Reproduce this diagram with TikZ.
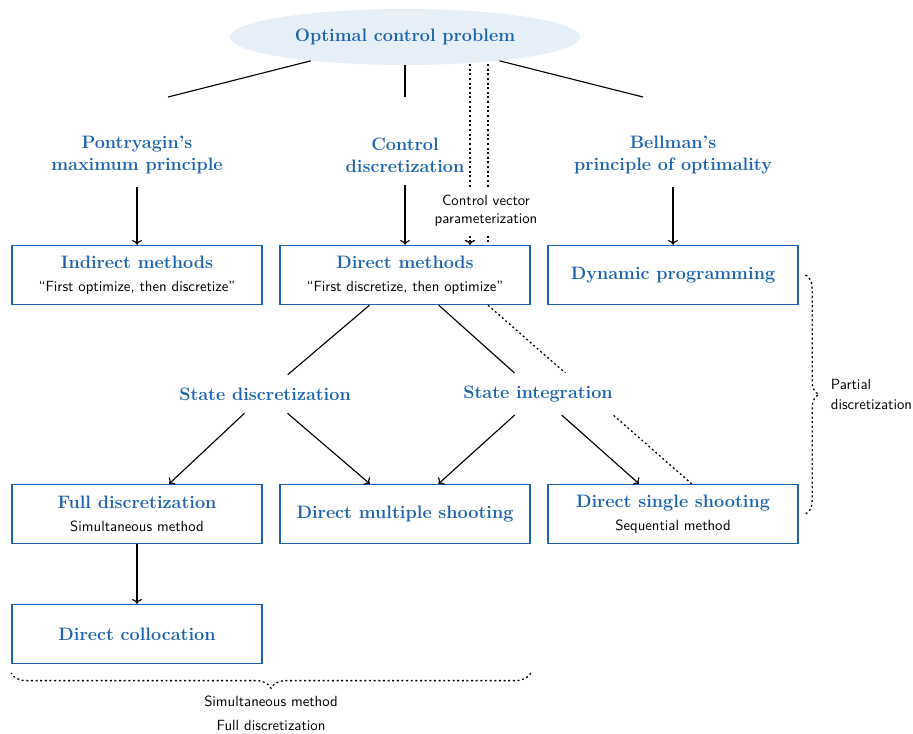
\documentclass[tikz,border=0pt]{standalone}
\usepackage{xcolor}
\usepackage{tikz}
\usetikzlibrary{shapes.geometric, arrows.meta, positioning, backgrounds, decorations.pathreplacing}

\definecolor{ocblue}{RGB}{27,99,176}
\definecolor{ocfill}{RGB}{230,238,248}
\newcommand{\octitle}{\fontsize{12.8}{15.4}\selectfont\bfseries}
\newcommand{\ocnote}{\fontsize{10.5}{12.6}\selectfont\mdseries\sffamily\color{black}}

\begin{document}
\begin{tikzpicture}[
    x=0.025cm, y=-0.025cm,
    methodbox/.style={rectangle, draw=ocblue, line width=1pt, fill=white, minimum width=6.25cm, minimum height=1.475cm, align=center, font=\octitle, text=ocblue},
    branch/.style={align=center, font=\octitle, text=ocblue, inner sep=9pt},
    arr/.style={->, line width=0.8pt},
    link/.style={line width=0.8pt},
    dotline/.style={dash pattern=on 1.4pt off 1.9pt, line width=0.9pt},
    lbl/.style={font=\ocnote, align=center}
]
\useasboundingbox (0,0) rectangle (913,733);

% Problem and the three approaches
\node[ellipse, fill=ocfill, minimum width=8.75cm, minimum height=1.4cm, font=\octitle, text=ocblue] (ocp) at (405,37) {Optimal control problem};
\node[branch] (pmp) at (137,155) {Pontryagin's\\maximum principle};
\node[branch] (cdisc) at (405,155) {Control\\discretization};
\node[branch] (bellman) at (673,155) {Bellman's\\principle of optimality};

\coordinate (pmpend) at (168,97);
\coordinate (cdend) at (405,97);
\coordinate (bellend) at (643,97);
\draw[link] (ocp) -- (pmpend);
\draw[link] (ocp) -- (cdend);
\draw[link] (ocp) -- (bellend);

% Method boxes, first row
\node[methodbox] (indirect) at (137,275) {Indirect methods\\[1pt]{\ocnote ``First optimize, then discretize''}};
\node[methodbox] (direct) at (405,275) {Direct methods\\[1pt]{\ocnote ``First discretize, then optimize''}};
\node[methodbox] (dynprog) at (673,275) {Dynamic programming};

\draw[arr] (pmp) -- (indirect);
\draw[arr] (cdisc) -- (direct);
\draw[arr] (bellman) -- (dynprog);

% Control vector parameterization (dotted)
\coordinate (cvpl) at (470,64);
\coordinate (cvpr) at (488,64);
\node[methodbox] (dss) at (673,514) {Direct single shooting\\[1pt]{\ocnote Sequential method}};
\coordinate (dssin) at (693,485);
\begin{scope}[on background layer]
\draw[dotline, ->] (cvpl) -- (cvpl |- direct.north);
\draw[dotline] (cvpr) -- (cvpr |- direct.north);
\draw[dotline] (cvpr |- direct.south) -- (dssin);
\end{scope}
\node[lbl, fill=white, inner sep=4.5pt] (cvp) at (486,211) {Control vector\\parameterization};

% State handling
\node[branch] (sdisc) at (265,394) {State discretization};
\node[branch, fill=white] (sint) at (538,394) {State integration};
\draw[link] (direct) -- (sdisc);
\draw[link] (direct) -- (sint);

% Method boxes, second row
\node[methodbox] (fulldisc) at (137,514) {Full discretization\\[1pt]{\ocnote Simultaneous method}};
\node[methodbox] (dms) at (405,514) {Direct multiple shooting};
\node[methodbox] (dcol) at (137,634) {Direct collocation};

\draw[arr] (sdisc) -- (fulldisc);
\draw[arr] (sdisc) -- (dms);
\draw[arr] (sint) -- (dms);
\draw[arr] (sint) -- (dss);
\draw[arr] (fulldisc) -- (dcol);

% Braces
\draw[dotline, decorate, decoration={brace, amplitude=0.33cm}] ([xshift=0.17cm]dynprog.east) -- ([xshift=0.17cm]dss.east)
    node[midway, right=0.5cm, lbl, align=left] (partial) {Partial\\[1.5pt]discretization};
\draw[dotline, decorate, decoration={brace, amplitude=0.38cm}] ([yshift=-0.22cm]dcol.south west -| dms.east) -- ([yshift=-0.22cm]dcol.south west)
    node[midway, below=0.45cm, lbl] (simul) {Simultaneous method\\[4.5pt]Full discretization};

\end{tikzpicture}
\end{document}
